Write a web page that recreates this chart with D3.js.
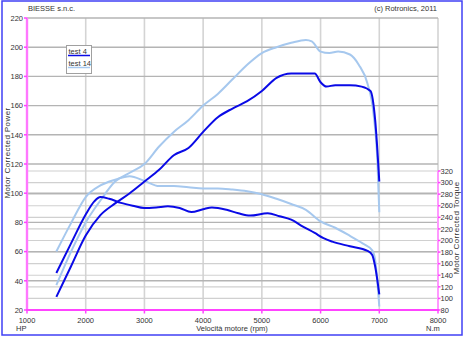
<!DOCTYPE html>
<html>
<head>
<meta charset="utf-8">
<script src="https://cdn.jsdelivr.net/npm/d3@7"></script>
<style>
  body { margin: 0; background: #fff; }
  text { font-family: "Liberation Sans", Arial, sans-serif; font-size: 7.5px; fill: #333; }
  .axis-title { font-size: 8px; letter-spacing: 0.4px; }
</style>
</head>
<body>
<div id="chart"></div>
<script>
// tick values
var rpmTicks = [1000, 2000, 3000, 4000, 5000, 6000, 7000, 8000];
var hpTicks = [20, 40, 60, 80, 100, 120, 140, 160, 180, 200, 220];
var nmTicks = [80, 100, 120, 140, 160, 180, 200, 220, 240, 260, 280, 300, 320];

// test 4 (dark)
var rpm4P = [1500, 1750, 2000, 2250, 2500, 2750, 3000, 3250, 3500, 3750, 4000, 4250, 4500, 4750, 5000, 5250, 5500, 5750, 5900, 6000, 6100, 6250, 6500, 6700, 6850, 6930, 7000];
var power4 = [29, 50, 71, 85, 93, 100, 108, 116, 126, 131, 142, 152, 158, 163, 170, 179, 182, 182, 182, 176, 173, 174, 174, 173, 170, 150, 108];
var rpm4T = [1500, 1750, 2000, 2150, 2250, 2400, 2600, 2800, 3000, 3200, 3400, 3600, 3800, 4000, 4150, 4400, 4600, 4800, 5100, 5300, 5500, 5700, 5900, 6050, 6200, 6500, 6800, 6880, 6930, 7000];
var torque4 = [144, 195, 245, 268, 275, 272, 265, 260, 256, 257, 259, 256, 249, 254, 257, 253, 247, 243, 247, 242, 236, 224, 213, 204, 198, 190, 182, 175, 155, 107];

// test 14 (light)
var rpm14P = [1500, 1750, 2000, 2250, 2500, 2750, 3000, 3250, 3500, 3750, 4000, 4250, 4500, 4750, 5000, 5250, 5500, 5750, 5850, 6000, 6150, 6300, 6500, 6650, 6800, 6900, 6970, 7000];
var power14 = [37, 60, 80, 95, 108, 114, 120, 132, 142, 150, 160, 168, 178, 188, 196, 200, 203, 205, 204, 197, 196, 197, 195, 188, 175, 155, 120, 87];
var rpm14T = [1500, 1750, 2000, 2250, 2500, 2750, 3000, 3250, 3500, 3750, 4000, 4250, 4500, 4750, 5000, 5250, 5500, 5750, 6000, 6250, 6500, 6750, 6880, 6930, 7000];
var torque14 = [181, 230, 275, 295, 305, 311, 303, 294, 294, 292, 290, 290, 288, 285, 280, 272, 263, 253, 233, 222, 208, 193, 183, 166, 86];

var dark = '#0a0ae6', light = '#a6c8ee', pink = '#ff44ff';

var W = 465, H = 340;
var svg = d3.select('#chart').append('svg')
  .attr('width', W)
  .attr('height', H);

var x = d3.scaleLinear().domain([1000, 8000]).range([27, 438]);
var yL = d3.scaleLinear().domain([20, 220]).range([310, 18]);
var yR = d3.scaleLinear().domain([80, 320]).range([310, 171]);

// outer border
svg.append('rect')
  .attr('x', 2).attr('y', 1)
  .attr('width', 460).attr('height', 334)
  .attr('fill', 'none')
  .attr('stroke', '#4040f5')
  .attr('stroke-width', 1.5);

// grid: vertical
svg.selectAll('.vgrid')
  .data(rpmTicks.slice(1))
  .enter().append('line')
  .attr('x1', function(d) { return x(d); })
  .attr('x2', function(d) { return x(d); })
  .attr('y1', yL(220)).attr('y2', yL(20))
  .attr('stroke', '#d4d4d4')
  .attr('stroke-width', 1.6);

// grid: torque lines (lighter)
svg.selectAll('.rgrid')
  .data(nmTicks.slice(1))
  .enter().append('line')
  .attr('x1', x(1000)).attr('x2', x(8000))
  .attr('y1', function(d) { return yR(d); })
  .attr('y2', function(d) { return yR(d); })
  .attr('stroke', '#d0d0d0')
  .attr('stroke-width', 1.2);

// grid: power lines
svg.selectAll('.lgrid')
  .data(hpTicks.slice(1))
  .enter().append('line')
  .attr('x1', x(1000)).attr('x2', x(8000))
  .attr('y1', function(d) { return yL(d); })
  .attr('y2', function(d) { return yL(d); })
  .attr('stroke', '#b4b4b4')
  .attr('stroke-width', 1.4);

// curves
var lineP = d3.line()
  .x(function(d) { return x(d[0]); })
  .y(function(d) { return yL(d[1]); })
  .curve(d3.curveMonotoneX);
var lineT = d3.line()
  .x(function(d) { return x(d[0]); })
  .y(function(d) { return yR(d[1]); })
  .curve(d3.curveMonotoneX);

function drawCurve(line, xs, ys, color) {
  svg.append('path')
    .datum(d3.zip(xs, ys))
    .attr('d', line)
    .attr('fill', 'none')
    .attr('stroke', color)
    .attr('stroke-width', 2)
    .attr('stroke-linejoin', 'round');
}
drawCurve(lineP, rpm14P, power14, light);
drawCurve(lineT, rpm14T, torque14, light);
drawCurve(lineP, rpm4P, power4, dark);
drawCurve(lineT, rpm4T, torque4, dark);

// left axis (pink)
svg.append('line')
  .attr('x1', x(1000)).attr('x2', x(1000))
  .attr('y1', yL(220)).attr('y2', yL(20))
  .attr('stroke', '#ff99ff').attr('stroke-width', 2.5);
svg.append('line')
  .attr('x1', x(1000)).attr('x2', x(1000))
  .attr('y1', yL(220)).attr('y2', yL(20))
  .attr('stroke', pink).attr('stroke-width', 0.8);

// right axis (pink, torque range only)
svg.append('line')
  .attr('x1', x(8000)).attr('x2', x(8000))
  .attr('y1', yR(320)).attr('y2', yR(80))
  .attr('stroke', '#ff99ff').attr('stroke-width', 2);

// bottom axis
svg.append('line')
  .attr('x1', x(1000) - 1).attr('x2', x(8000) + 1)
  .attr('y1', yL(20)).attr('y2', yL(20))
  .attr('stroke', pink).attr('stroke-width', 2);

// ticks + labels
var leftAxis = svg.append('g');
leftAxis.selectAll('line')
  .data(hpTicks).enter().append('line')
  .attr('x1', x(1000) - 3).attr('x2', x(1000))
  .attr('y1', function(d) { return yL(d); })
  .attr('y2', function(d) { return yL(d); })
  .attr('stroke', pink).attr('stroke-width', 1.5);
leftAxis.selectAll('text')
  .data(hpTicks).enter().append('text')
  .attr('x', x(1000) - 4)
  .attr('y', function(d) { return yL(d) + 2.7; })
  .attr('text-anchor', 'end')
  .text(function(d) { return d; });

var rightAxis = svg.append('g');
rightAxis.selectAll('line')
  .data(nmTicks).enter().append('line')
  .attr('x1', x(8000)).attr('x2', x(8000) + 2.5)
  .attr('y1', function(d) { return yR(d); })
  .attr('y2', function(d) { return yR(d); })
  .attr('stroke', pink).attr('stroke-width', 1.5);
rightAxis.selectAll('text')
  .data(nmTicks).enter().append('text')
  .attr('x', x(8000) + 2.5)
  .attr('y', function(d) { return yR(d) + 2.7; })
  .text(function(d) { return d; });

var bottomAxis = svg.append('g');
bottomAxis.selectAll('line')
  .data(rpmTicks).enter().append('line')
  .attr('x1', function(d) { return x(d); })
  .attr('x2', function(d) { return x(d); })
  .attr('y1', yL(20)).attr('y2', yL(20) + 3.5)
  .attr('stroke', pink).attr('stroke-width', 1.5);
bottomAxis.selectAll('text')
  .data(rpmTicks).enter().append('text')
  .attr('x', function(d) { return x(d); })
  .attr('y', yL(20) + 12.5)
  .attr('text-anchor', 'middle')
  .text(function(d) { return d; });

// titles
svg.append('text').attr('x', 28).attr('y', 11).text('BIESSE s.n.c.');
svg.append('text').attr('x', 437).attr('y', 11).attr('text-anchor', 'end').text('(c) Rotronics, 2011');
svg.append('text').attr('x', 16).attr('y', 330.5).text('HP');
svg.append('text').attr('x', 426).attr('y', 330.5).text('N.m');
svg.append('text').attr('x', 232).attr('y', 331).attr('text-anchor', 'middle').text('Velocità motore (rpm)');
svg.append('text')
  .attr('class', 'axis-title')
  .attr('transform', 'translate(10,153) rotate(-90)')
  .attr('text-anchor', 'middle')
  .text('Motor Corrected Power');
svg.append('text')
  .attr('class', 'axis-title')
  .attr('transform', 'translate(459,228) rotate(-90)')
  .attr('text-anchor', 'middle')
  .text('Motor Corrected Torque');

// legend
var legend = svg.append('g');
legend.append('rect')
  .attr('x', 66.5).attr('y', 45.5)
  .attr('width', 25).attr('height', 28)
  .attr('fill', '#fff')
  .attr('stroke', '#a0a0a0');
var legendItems = [['test 4', dark], ['test 14', light]];
legendItems.forEach(function(d, i) {
  legend.append('text')
    .attr('x', 68.5).attr('y', 53.5 + i * 12)
    .text(d[0]);
  legend.append('line')
    .attr('x1', 68).attr('x2', 90)
    .attr('y1', 55.5 + i * 12).attr('y2', 55.5 + i * 12)
    .attr('stroke', d[1]).attr('stroke-width', 1.5);
});
</script>
</body>
</html>
